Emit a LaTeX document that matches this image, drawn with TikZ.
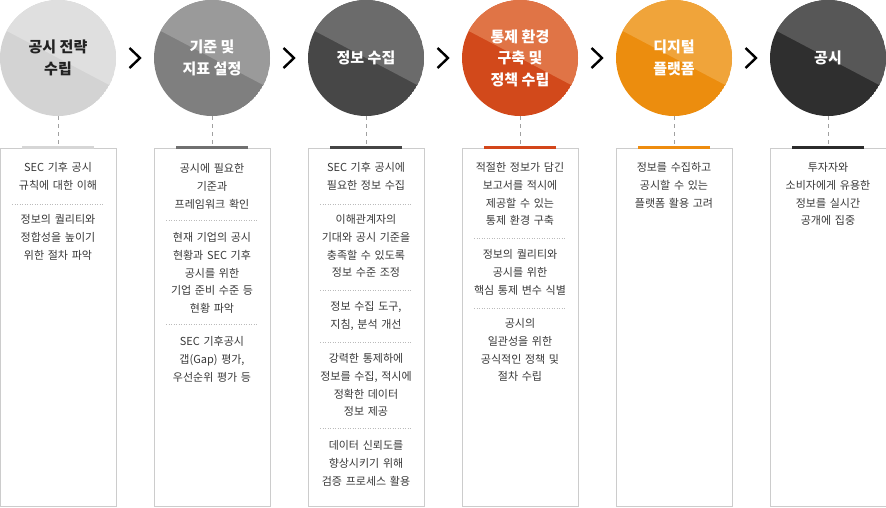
\documentclass[tikz,border=0pt]{standalone}
\usepackage{fontspec}
\newfontfamily\cjk{Noto Sans CJK KR}
\usetikzlibrary{calc}
\definecolor{upA}{HTML}{DFDFDF}\definecolor{loA}{HTML}{D3D3D3}
\definecolor{upB}{HTML}{9A9A9A}\definecolor{loB}{HTML}{7F7F7F}
\definecolor{upC}{HTML}{6B6B6B}\definecolor{loC}{HTML}{474747}
\definecolor{upD}{HTML}{E07446}\definecolor{loD}{HTML}{D2491B}
\definecolor{upE}{HTML}{F0A43A}\definecolor{loE}{HTML}{EC8D0E}
\definecolor{upF}{HTML}{575757}\definecolor{loF}{HTML}{2F2F2F}
\definecolor{barA}{HTML}{D6D6D6}\definecolor{barB}{HTML}{707070}
\definecolor{barC}{HTML}{454545}\definecolor{barD}{HTML}{D3461A}
\definecolor{barE}{HTML}{EE8C0F}\definecolor{barF}{HTML}{2B2B2B}
\definecolor{boxgray}{HTML}{CCCCCC}
\definecolor{sepgray}{HTML}{BBBBBB}
\definecolor{dashgray}{HTML}{A0A0A0}
\definecolor{txtgray}{HTML}{383838}
\definecolor{darktxt}{HTML}{222222}
\newcommand\twotone[4]{%
  \begin{scope}
  \clip (#1,#2) circle[radius=58];
  \fill[#4] (#1,#2) circle[radius=58];
  \fill[#3] ($(#1,#2)+(-70,-36.9)$) -- ($(#1,#2)+(70,36.9)$) -- ($(#1,#2)+(70,-70)$) -- ($(#1,#2)+(-70,-70)$) -- cycle;
  \end{scope}}
\begin{document}
\begin{tikzpicture}[x=1pt,y=-1pt,
  cnode/.style={circle, minimum size=116pt, inner sep=0pt, align=center,
    font=\cjk\bfseries\fontsize{15}{21.5}\selectfont, text=white},
  box/.style={draw=boxgray, line width=0.8pt, minimum width=116pt, minimum height=358pt, anchor=north, inner sep=0pt},
  txt/.style={text width=114pt, align=center, font=\cjk\fontsize{11}{17.7}\selectfont, text=txtgray, inner sep=0pt, anchor=base},
  sepline/.style={draw=sepgray, line width=0.6pt, dash pattern=on 1pt off 1.5pt},
  dashlink/.style={draw=dashgray, line width=0.8pt, dash pattern=on 4pt off 4pt},
  chev/.style={draw=black, line width=2.4pt, miter limit=10},
  barline/.style={line width=3pt}]
\useasboundingbox (0,0) rectangle (886,507);
% circles background
\twotone{58}{58}{upA}{loA}
\twotone{212}{58}{upB}{loB}
\twotone{366}{58}{upC}{loC}
\twotone{520}{58}{upD}{loD}
\twotone{674}{58}{upE}{loE}
\twotone{828}{58}{upF}{loF}
% circle nodes
\node[cnode, text=darktxt] (c1) at (58,58) {공시 전략\\수립};
\node[cnode] (c2) at (212,58) {기준 및\\지표 설정};
\node[cnode] (c3) at (366,58) {정보 수집};
\node[cnode] (c4) at (520,58) {통제 환경\\구축 및\\정책 수립};
\node[cnode] (c5) at (674,58) {디지털\\플랫폼};
\node[cnode] (c6) at (828,58) {공시};
% chevrons
\foreach \a/\b in {c1/c2,c2/c3,c3/c4,c4/c5,c5/c6}{
  \coordinate (m) at ($(\a.east)!0.5!(\b.west)$);
  \draw[chev] ($(m)+(-5.5,-10)$) -- ($(m)+(5,0)$) -- ($(m)+(-5.5,10)$);
}
% boxes
\node[box] (b1) at (58,148) {};
\node[box] (b2) at (212,148) {};
\node[box] (b3) at (366,148) {};
\node[box] (b4) at (520,148) {};
\node[box] (b5) at (674,148) {};
\node[box] (b6) at (828,148) {};
% dashed links
\foreach \i in {1,...,6}{\draw[dashlink] (c\i.south) -- (b\i.north);}
% bars
\foreach \i/\c in {1/barA,2/barB,3/barC,4/barD,5/barE,6/barF}{
  \draw[barline, draw=\c] ($(b\i.north)+(-36,-0.5)$) -- ($(b\i.north)+(36,-0.5)$);}
% box 1
\node[txt] (t11) at (58,171.8) {SEC 기후 공시\\규칙에 대한 이해};
\draw[sepline] (12,204) -- (104,204);
\node[txt] (t12) at (58,223.8) {정보의 퀄리티와\\정합성을 높이기\\위한 절차 파악};
% box 2
\node[txt] (t21) at (212,172.8) {공시에 필요한\\기준과\\프레임워크 확인};
\draw[sepline] (166,220) -- (258,220);
\node[txt] (t22) at (212,241.8) {현재 기업의 공시\\현황과 SEC 기후\\공시를 위한\\기업 준비 수준 등\\현황 파악};
\draw[sepline] (166,324) -- (258,324);
\node[txt] (t23) at (212,345.8) {SEC 기후공시\\갭(Gap) 평가,\\우선순위 평가 등};
% box 3
\node[txt] (t31) at (366,171.8) {SEC 기후 공시에\\필요한 정보 수집};
\draw[sepline] (320,204) -- (412,204);
\node[txt] (t32) at (366,223.8) {이해관계자의\\기대와 공시 기준을\\충족할 수 있도록\\정보 수준 조정};
\draw[sepline] (320,290) -- (412,290);
\node[txt] (t33) at (366,310.8) {정보 수집 도구,\\지침, 분석 개선};
\draw[sepline] (320,342) -- (412,342);
\node[txt] (t34) at (366,362.8) {강력한 통제하에\\정보를 수집, 적시에\\정확한 데이터\\정보 제공};
\draw[sepline] (320,428) -- (412,428);
\node[txt] (t35) at (366,449.8) {데이터 신뢰도를\\향상시키기 위해\\검증 프로세스 활용};
% box 4
\node[txt] (t41) at (520,171.8) {적절한 정보가 담긴\\보고서를 적시에\\제공할 수 있는\\통제 환경 구축};
\draw[sepline] (474,238) -- (566,238);
\node[txt] (t42) at (520,258.8) {정보의 퀄리티와\\공시를 위한\\핵심 통제 변수 식별};
\draw[sepline] (474,308) -- (566,308);
\node[txt] (t43) at (520,327.8) {공시의\\일관성을 위한\\공식적인 정책 및\\절차 수립};
% box 5
\node[txt] (t51) at (674,171.8) {정보를 수집하고\\공시할 수 있는\\플랫폼 활용 고려};
% box 6
\node[txt] (t61) at (828,171.8) {투자자와\\소비자에게 유용한\\정보를 실시간\\공개에 집중};
\end{tikzpicture}
\end{document}
